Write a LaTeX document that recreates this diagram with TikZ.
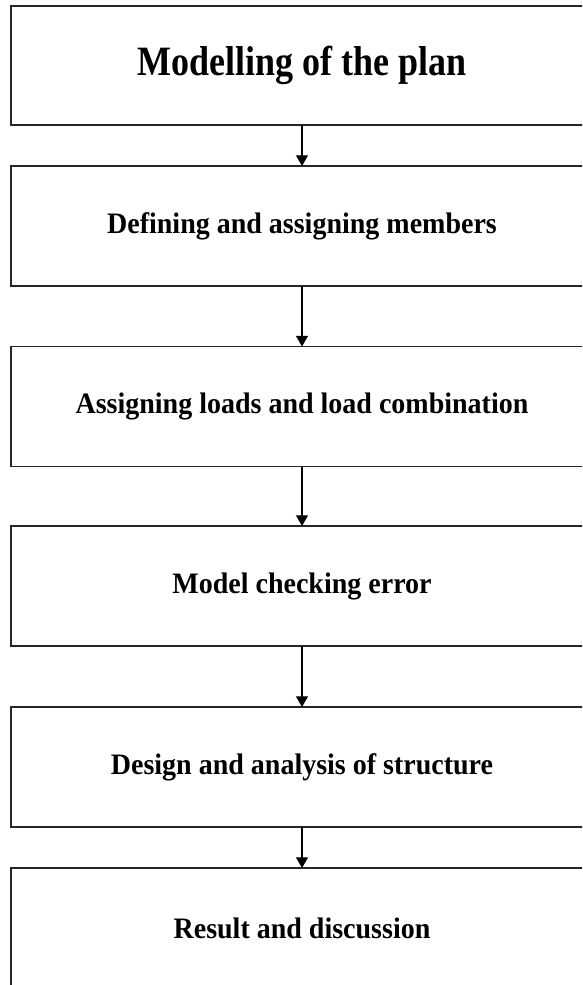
\documentclass[tikz,border=0pt]{standalone}
\usepackage{fontspec}
\setmainfont{Liberation Serif}
\usepackage{graphicx}
\usetikzlibrary{arrows.meta}
\newcommand\stretchtext[2]{\scalebox{1}[#1]{#2}}
\begin{document}
\begin{tikzpicture}[x=0.75pt,y=-0.75pt,
  stepbox/.style={draw=black!85, line width=1.2pt, rectangle, inner sep=0pt, outer sep=0pt,
    minimum width=436.5pt, minimum height=90pt, font=\fontsize{21pt}{24pt}\selectfont\bfseries},
  titlebox/.style={stepbox, minimum height=89.25pt, font=\fontsize{27pt}{30pt}\selectfont\bfseries},
  flowarrow/.style={draw=black, line width=0.8pt, -{Triangle[width=9pt,length=8pt]}}]
\useasboundingbox (0,0) rectangle (582,985);
\clip (0,0) rectangle (582,985);
\node[titlebox] (b1) at (302,65.5) {\stretchtext{1.16}{Modelling of the plan}};
\node[stepbox] (b2) at (302,226) {\stretchtext{1.06}{Defining and assigning members}};
\node[stepbox] (b3) at (302,406.5) {\stretchtext{1.06}{Assigning loads and load combination}};
\node[stepbox] (b4) at (302,586) {\stretchtext{1.06}{Model checking error}};
\node[stepbox] (b5) at (302,767) {\stretchtext{1.06}{Design and analysis of structure}};
\node[stepbox] (b6) at (302,928) {\stretchtext{1.06}{Result and discussion}};
\draw[flowarrow] (b1.south) -- (b2.north);
\draw[flowarrow] (b2.south) -- (b3.north);
\draw[flowarrow] (b3.south) -- (b4.north);
\draw[flowarrow] (b4.south) -- (b5.north);
\draw[flowarrow] (b5.south) -- (b6.north);
\end{tikzpicture}
\end{document}
